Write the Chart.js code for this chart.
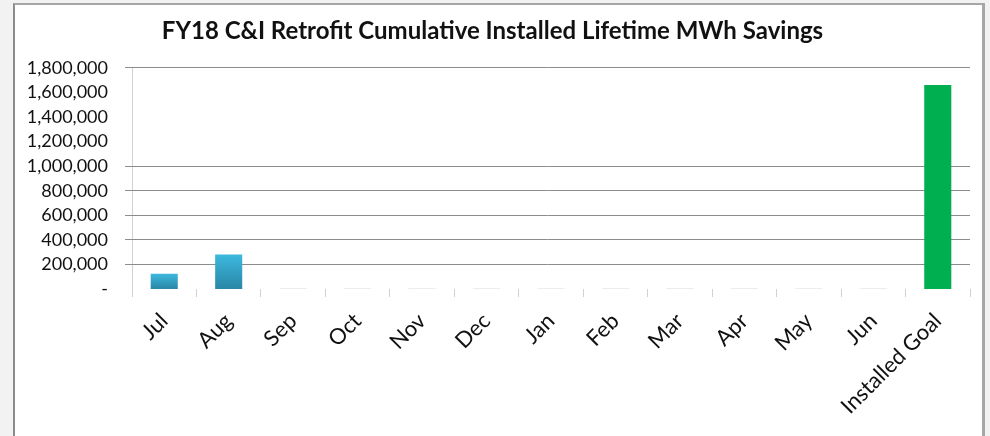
<!DOCTYPE html>
<html>
<head>
<meta charset="utf-8">
<script src="https://cdn.jsdelivr.net/npm/chart.js@4"></script>
<style>
  html, body { margin: 0; padding: 0; background: #f2f2f2; width: 990px; height: 436px; overflow: hidden; }
  #frame { position: absolute; left: 13px; top: 3px; width: 967px; height: 440px; background: #fff;
           border-top: 2px solid #a6a6a6; border-left: 2px solid #8c8c8c; border-right: 3px solid #a6a6a6; }
  #wrap { position: absolute; left: 0; top: 0; width: 967px; height: 431px; }
</style>
</head>
<body>
<div id="frame"><div id="wrap"><canvas id="c"></canvas></div></div>
<script>
const chartTitle = 'FY18 C&I Retrofit Cumulative Installed Lifetime MWh Savings';
const categories = ['Jul','Aug','Sep','Oct','Nov','Dec','Jan','Feb','Mar','Apr','May','Jun','Installed Goal'];
const savings = [125000, 280000, 0, 0, 0, 0, 0, 0, 0, 0, 0, 0, 1660000];
const yTicks = [0, 200000, 400000, 600000, 800000, 1000000, 1200000, 1400000, 1600000, 1800000];
const gridLineValues = [200000, 400000, 600000, 800000, 1000000, 1800000];
const yMax = 1800000;

const FONT = 'Lato, "Liberation Sans", sans-serif';

function barColor(ctx) {
  const i = ctx.dataIndex;
  const v = savings[i];
  if (i === categories.length - 1) return '#00b050';
  if (!v) return '#ececec';
  const chart = ctx.chart;
  const y = chart.scales && chart.scales.y;
  if (!y || !chart.chartArea) return '#33a9cf';
  const top = y.getPixelForValue(v);
  const base = y.getPixelForValue(0);
  const g = chart.ctx.createLinearGradient(0, top, 0, base);
  g.addColorStop(0, '#3cb9de');
  g.addColorStop(1, '#2a86a6');
  return g;
}

// Horizontal gridlines (only at the values visible in the original), placed through the y scale
const selectiveGrid = {
  id: 'selectiveGrid',
  beforeDatasetsDraw(chart) {
    const { ctx, chartArea, scales } = chart;
    const y = scales.y;
    ctx.save();
    ctx.strokeStyle = '#8c8c8c';
    ctx.lineWidth = 1;
    gridLineValues.forEach(v => {
      const py = Math.floor(y.getPixelForValue(v)) + 0.5;
      ctx.beginPath();
      ctx.moveTo(chartArea.left - 7, py);
      ctx.lineTo(chartArea.right, py);
      ctx.stroke();
    });
    ctx.restore();
  }
};

new Chart(document.getElementById('c'), {
  type: 'bar',
  data: {
    labels: categories,
    datasets: [{
      data: savings,
      backgroundColor: barColor,
      borderWidth: 0,
      minBarLength: 1,
      categoryPercentage: 1,
      barPercentage: 0.42
    }]
  },
  plugins: [selectiveGrid],
  options: {
    responsive: true,
    maintainAspectRatio: false,
    animation: false,
    layout: { padding: { left: 0, right: 12, top: 0, bottom: 0 } },
    plugins: {
      legend: { display: false },
      tooltip: { enabled: false },
      title: {
        display: true,
        text: chartTitle,
        color: '#111',
        font: { family: FONT, size: 24, weight: 'bold' },
        padding: { top: 12, bottom: 22 }
      }
    },
    scales: {
      x: {
        border: { display: false },
        grid: { display: true, drawOnChartArea: false, drawTicks: true, tickLength: 8, color: '#d0d0d0', offset: true },
        ticks: {
          color: '#111',
          font: { family: FONT, size: 22 },
          maxRotation: 45, minRotation: 45,
          autoSkip: false,
          padding: 11
        },
        afterFit: s => { s.height = 147; }
      },
      y: {
        min: 0, max: yMax,
        border: { display: true, color: '#d0d0d0', width: 1 },
        grid: { display: false, drawTicks: false },
        afterBuildTicks: s => { s.ticks = yTicks.map(v => ({ value: v })); },
        ticks: {
          color: '#111',
          font: { family: FONT, size: 18 },
          padding: 24,
          autoSkip: false,
          callback: v => v === 0 ? '-' : Number(v).toLocaleString('en-US')
        },
        afterFit: s => { s.width = 117; }
      }
    }
  }
});
</script>
</body>
</html>
